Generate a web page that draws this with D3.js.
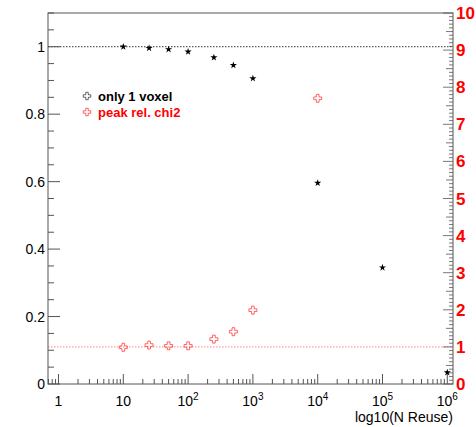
<!DOCTYPE html>
<html><head><meta charset="utf-8">
<script src="https://cdn.jsdelivr.net/npm/d3@7"></script>
<style>body{margin:0;background:#fff}svg{display:block}text{font-family:"Liberation Sans",Arial,sans-serif}</style>
</head><body><svg id="c" width="476" height="427"></svg>
<script>
const nReuse = [10, 25, 50, 100, 250, 500, 1000, 10000, 100000, 1000000];
const onlyOneVoxel = [1.0, 0.996, 0.992, 0.985, 0.968, 0.945, 0.906, 0.596, 0.345, 0.034];
const chi2X = [10, 25, 50, 100, 250, 500, 1000, 10000];
const peakRelChi2 = [0.99, 1.05, 1.03, 1.03, 1.21, 1.41, 1.99, 7.7];
const leftTicks = [0, 0.2, 0.4, 0.6, 0.8, 1];
const rightTicks = [0,1,2,3,4,5,6,7,8,9,10];
const xTickExp = [0,1,2,3,4,5,6];
const seriesNames = ["only 1 voxel", "peak rel. chi2"];

const svg = d3.select("#c");
const L = 48, R = 453, T = 13, B = 384;
const x = d3.scaleLog().domain([Math.pow(10,-0.162), Math.pow(10,6.088)]).range([L, R]);
const yL = d3.scaleLinear().domain([0, 1.1]).range([B, T]);
const yR = d3.scaleLinear().domain([0, 10]).range([B, T]);
const axisCol = "#555";

// frame
svg.append("rect").attr("x",L).attr("y",T).attr("width",R-L).attr("height",B-T)
  .attr("fill","none").attr("stroke",axisCol).attr("stroke-width",1);

// dotted reference lines
svg.append("line").attr("x1",L).attr("x2",R).attr("y1",yL(1)).attr("y2",yL(1))
  .attr("stroke","#000").attr("stroke-dasharray","1.5,1.5").attr("stroke-width",0.8);
svg.append("line").attr("x1",L).attr("x2",R).attr("y1",yR(1)).attr("y2",yR(1))
  .attr("stroke","#f44").attr("stroke-dasharray","1.5,1.5").attr("stroke-width",0.8).attr("opacity",0.8);

// x ticks
const xMinor = [];
for (let e = -1; e <= 6; e++) for (let m = 1; m <= 9; m++) {
  const v = m*Math.pow(10,e);
  if (v >= x.domain()[0] && v <= x.domain()[1]) xMinor.push({v, major: m===1});
}
svg.append("g").selectAll("line").data(xMinor).join("line")
  .attr("x1",d=>x(d.v)).attr("x2",d=>x(d.v))
  .attr("y1",B).attr("y2",d=>B-(d.major?10:5)).attr("stroke",axisCol).attr("stroke-width",1);

const xl = svg.append("g").attr("font-size",14).attr("fill","#000");
xTickExp.forEach(e => {
  const t = xl.append("text").attr("x", x(Math.pow(10,e))).attr("y", 406).attr("text-anchor","middle");
  if (e===0) t.text("1");
  else if (e===1) t.text("10");
  else { t.append("tspan").text("10"); t.append("tspan").attr("dy",-6).attr("font-size",10).text(e); }
});
svg.append("text").attr("x",R).attr("y",422).attr("text-anchor","end").attr("font-size",14).text("log10(N Reuse)");

// left axis ticks
const lt = d3.range(0, 1.1001, 0.05).map(v=>({v, major: Math.abs(v/0.2 - Math.round(v/0.2))<1e-6}));
svg.append("g").selectAll("line").data(lt).join("line")
  .attr("x1",L).attr("x2",d=>L+(d.major?12:6)).attr("y1",d=>yL(d.v)).attr("y2",d=>yL(d.v))
  .attr("stroke",axisCol);
svg.append("g").selectAll("text").data(leftTicks).join("text")
  .attr("x",45).attr("y",d=>yL(d)+5).attr("text-anchor","end").attr("font-size",14).text(d=>d);

// right axis ticks
const rt = d3.range(0, 100.5, 1).map(i=>({v:i/10, kind: i%10===0?2:(i%5===0?1:0)}));
svg.append("g").selectAll("line").data(rt).join("line")
  .attr("x1",R).attr("x2",d=>R-(d.kind===2?10:d.kind===1?7:4)).attr("y1",d=>yR(d.v)).attr("y2",d=>yR(d.v))
  .attr("stroke",axisCol).attr("stroke-width",0.8);
svg.append("g").selectAll("text").data(rightTicks).join("text")
  .attr("x",456).attr("y",d=>yR(d)+6).attr("font-size",17).attr("font-weight","bold").attr("fill","#f00").text(d=>d);

// data markers
const star = d3.symbol().type(d3.symbolStar).size(16);
svg.append("g").selectAll("path").data(nReuse.map((n,i)=>[n,onlyOneVoxel[i]])).join("path")
  .attr("d",star).attr("transform",d=>`translate(${x(d[0])},${yL(d[1])})`).attr("fill","#000");

const crossPath = (s) => { const a=s/6, b=s/2; return `M${-a},${-b}H${a}V${-a}H${b}V${a}H${a}V${b}H${-a}V${a}H${-b}V${-a}H${-a}Z`; };
svg.append("g").selectAll("path").data(chi2X.map((n,i)=>[n,peakRelChi2[i]])).join("path")
  .attr("d",crossPath(8)).attr("transform",d=>`translate(${x(d[0])},${yR(d[1])})`)
  .attr("fill","none").attr("stroke","#f33").attr("stroke-width",1).attr("opacity",0.75);

// legend
const leg = svg.append("g");
seriesNames.forEach((name,i)=>{
  const yy = 96 + i*16;
  const col = i===0 ? "#000" : "#f00";
  leg.append("path").attr("d",crossPath(7.5)).attr("transform",`translate(87,${yy})`)
    .attr("fill","none").attr("stroke",col).attr("stroke-width",0.8).attr("opacity",0.75);
  leg.append("text").attr("x",98).attr("y",yy+4.5).attr("font-size",13).attr("font-weight","bold")
    .attr("fill",col).text(name);
});
</script></body></html>
